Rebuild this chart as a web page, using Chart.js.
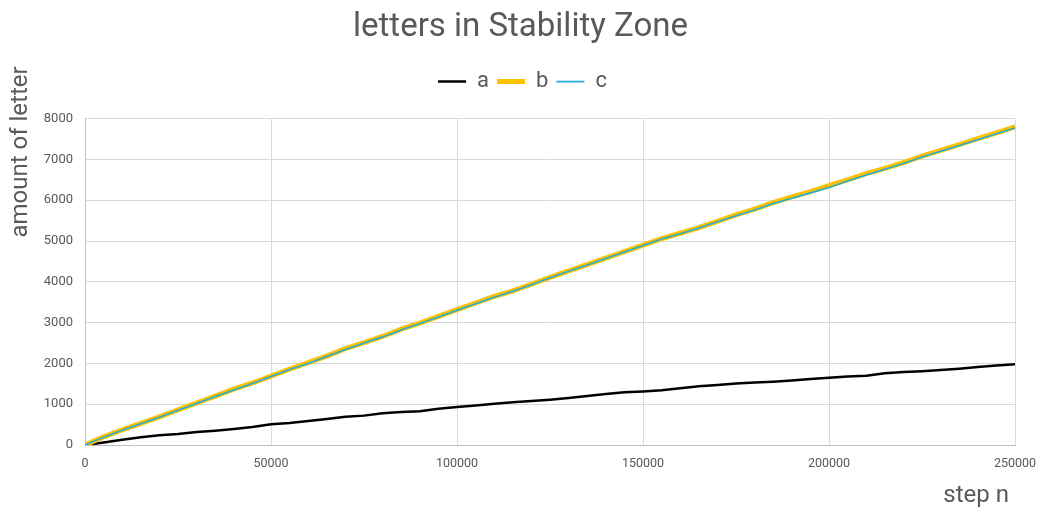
<!DOCTYPE html>
<html>
<head>
<meta charset="utf-8">
<script src="https://cdn.jsdelivr.net/npm/chart.js@4/dist/chart.umd.min.js"></script>
<style>
html,body{margin:0;padding:0;background:#fff;}
#wrap{width:1037px;height:508px;}
</style>
</head>
<body>
<div id="wrap"><canvas id="c" width="1037" height="508"></canvas></div>
<script>
const steps = [0,5000,10000,15000,20000,25000,30000,35000,40000,45000,50000,55000,60000,65000,70000,75000,80000,85000,90000,95000,100000,105000,110000,115000,120000,125000,130000,135000,140000,145000,150000,155000,160000,165000,170000,175000,180000,185000,190000,195000,200000,205000,210000,215000,220000,225000,230000,235000,240000,245000,250000];
const seriesA = [0,60,130,190,240,270,320,350,390,440,510,540,590,640,690,720,780,810,830,890,930,970,1010,1050,1080,1110,1150,1200,1250,1290,1310,1340,1390,1440,1470,1510,1530,1550,1580,1620,1650,1680,1700,1760,1790,1810,1840,1870,1910,1950,1980];
const seriesB = [0,200,370,530,690,860,1030,1200,1370,1520,1690,1860,2020,2180,2360,2510,2660,2840,2990,3150,3320,3480,3640,3780,3940,4110,4270,4420,4580,4740,4900,5060,5190,5330,5480,5640,5780,5940,6080,6210,6360,6500,6650,6780,6920,7080,7220,7360,7510,7650,7800];
const seriesC = [0,190,360,520,680,850,1020,1190,1350,1510,1680,1850,2000,2170,2340,2500,2650,2820,2980,3140,3300,3460,3620,3770,3930,4100,4260,4410,4570,4730,4890,5050,5180,5320,5470,5620,5760,5920,6050,6180,6310,6470,6620,6760,6900,7060,7200,7340,7480,7630,7770];
const seriesNames = ['a','b','c'];
const xTicks = [0,50000,100000,150000,200000,250000];
const yTicks = [0,1000,2000,3000,4000,5000,6000,7000,8000];

const toXY = arr => steps.map((s,i)=>({x:s,y:arr[i]}));
const FONT = 'Roboto, "Open Sans", sans-serif';
const GRAY = '#595959';

const axisTitles = {
  id:'axisTitles',
  beforeInit(chart){
    const lg = chart.legend;
    if (lg) {
      const fit = lg.fit.bind(lg);
      lg.fit = function(){ fit(); this.height += 16; };
    }
  },
  afterLayout(chart){
    if (chart.titleBlock) { chart.titleBlock.left += 13; chart.titleBlock.right += 13; }
    if (chart.legend) { chart.legend.left += 15; chart.legend.right += 15; }
  },
  afterDraw(chart){
    const ctx = chart.ctx;
    ctx.save();
    ctx.fillStyle = GRAY;
    ctx.font = '24px ' + FONT;
    ctx.textAlign = 'center';
    ctx.textBaseline = 'middle';
    ctx.translate(21, 152);
    ctx.rotate(-Math.PI/2);
    ctx.fillText('amount of letter', 0, 0);
    ctx.restore();
    ctx.save();
    ctx.fillStyle = GRAY;
    ctx.font = '24px ' + FONT;
    ctx.textAlign = 'right';
    ctx.textBaseline = 'middle';
    ctx.fillText('step n', 1009, 496);
    ctx.restore();
  }
};

new Chart(document.getElementById('c'), {
  type:'line',
  data:{
    datasets:[
      {label:seriesNames[0], data:toXY(seriesA), borderColor:'#000000', backgroundColor:'#000000', borderWidth:2.5, pointRadius:0, order:2, tension:0},
      {label:seriesNames[1], data:toXY(seriesB), borderColor:'#FFC000', backgroundColor:'#FFC000', borderWidth:5, pointRadius:0, order:1, tension:0},
      {label:seriesNames[2], data:toXY(seriesC), borderColor:'#1FAEDC', backgroundColor:'#1FAEDC', borderWidth:1.6, pointRadius:0, order:0, tension:0}
    ]
  },
  options:{
    responsive:false,
    animation:false,
    devicePixelRatio:1,
    layout:{padding:{left:0,right:22,top:0,bottom:0}},
    plugins:{
      title:{display:true, text:'letters in Stability Zone', color:GRAY, font:{family:FONT,size:33,weight:'normal'}, padding:{top:8,bottom:15}},
      legend:{
        display:true,
        labels:{
          color:GRAY, font:{family:FONT,size:22}, usePointStyle:true, pointStyle:'line', pointStyleWidth:28, boxHeight:10, padding:8,
          sort:(a,b)=>a.datasetIndex-b.datasetIndex
        }
      },
      tooltip:{enabled:false}
    },
    scales:{
      x:{
        type:'linear', min:0, max:250000,
        afterBuildTicks(s){ s.ticks = xTicks.map(v=>({value:v})); },
        afterFit(s){ s.height = 63; s.paddingRight = 0; s.paddingLeft = 0; },
        grid:{color:'#D9D9D9', drawTicks:false},
        border:{color:'#BFBFBF'},
        ticks:{color:GRAY, font:{family:FONT,size:12.5}, padding:11, maxRotation:0, callback:v=>String(v)}
      },
      y:{
        type:'linear', min:0, max:8000,
        afterBuildTicks(s){ s.ticks = yTicks.map(v=>({value:v})); },
        afterFit(s){ s.width = 85; },
        grid:{color:'#D9D9D9', drawTicks:false},
        border:{color:'#BFBFBF'},
        ticks:{color:GRAY, font:{family:FONT,size:13}, padding:12, callback:v=>String(v)}
      }
    }
  },
  plugins:[axisTitles]
});
</script>
</body>
</html>
